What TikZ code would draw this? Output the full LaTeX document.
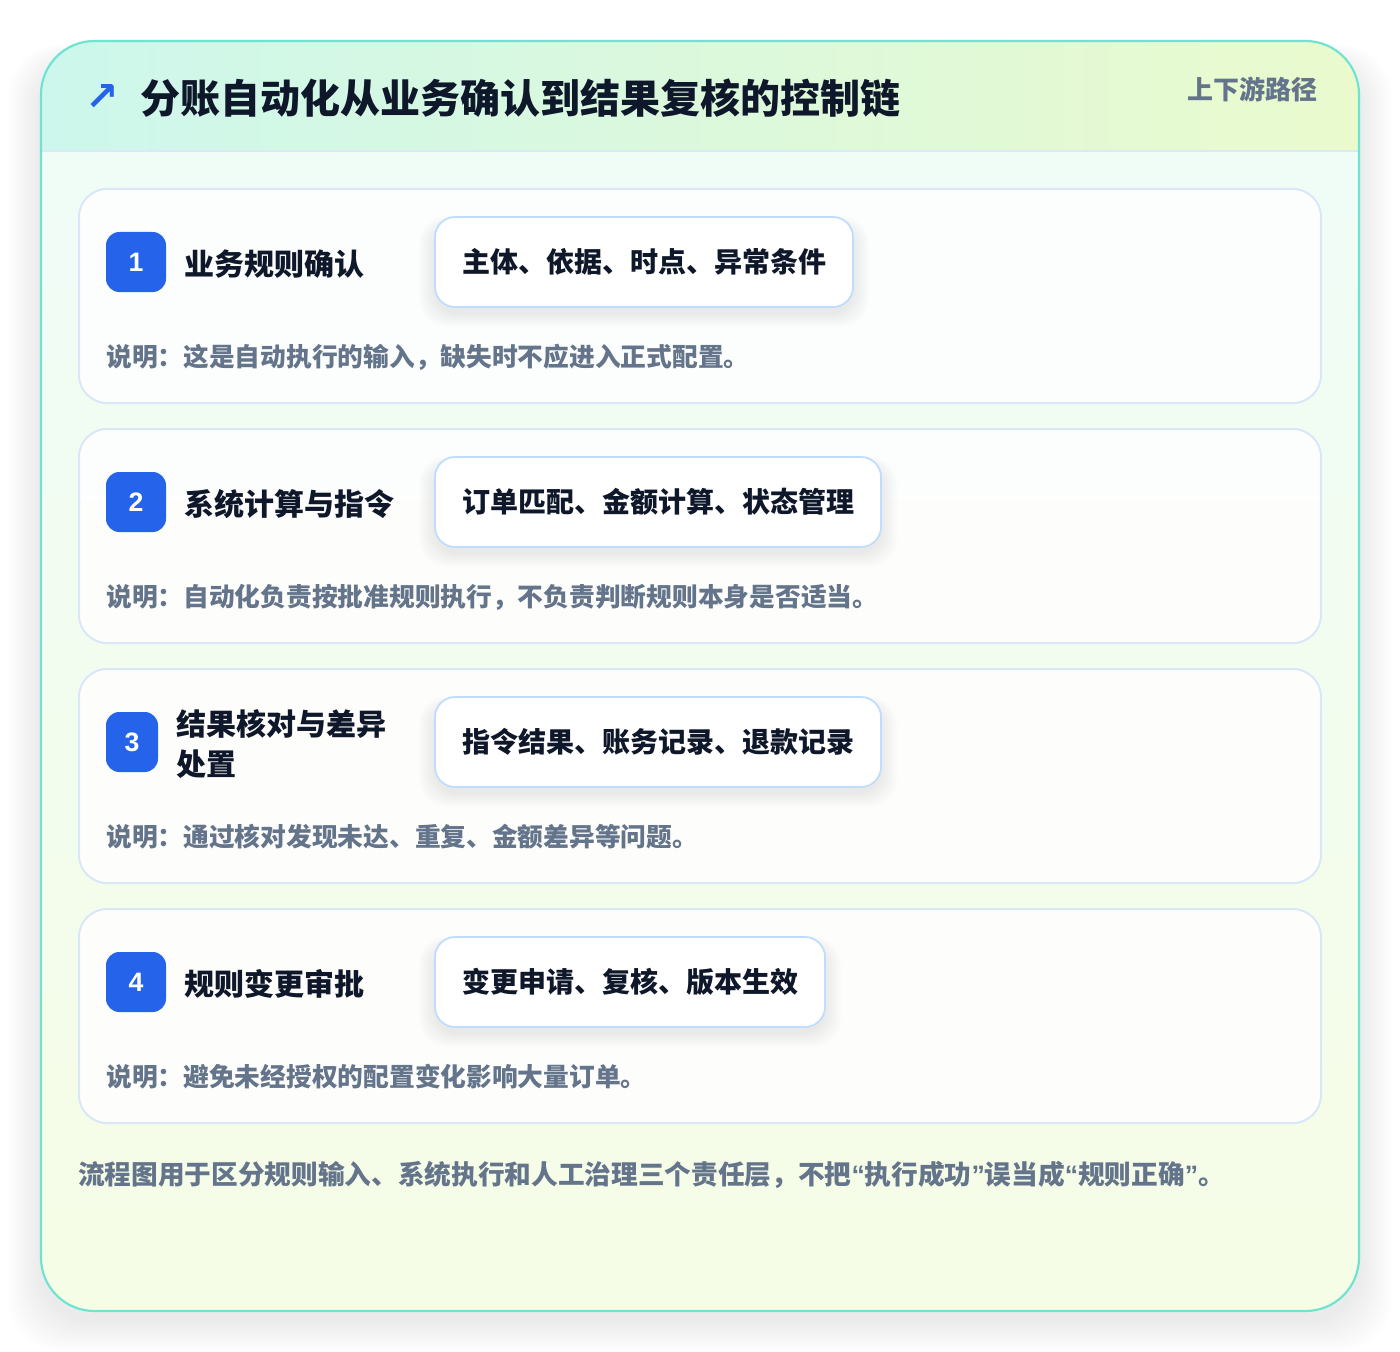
\documentclass[tikz,border=0pt]{standalone}
\usepackage{fontspec}
\setmainfont{Noto Sans CJK SC}[BoldFont={* Bold}]
\newfontfamily\heavyfont{Noto Sans CJK SC Black}
\newfontfamily\symfont{DejaVu Sans}
\newfontfamily\latinfont{Liberation Sans}
\usetikzlibrary{positioning}
\definecolor{badgeblue}{HTML}{2563EB}
\definecolor{ink}{HTML}{0F172A}
\definecolor{muted}{HTML}{64748B}
\definecolor{cardline}{HTML}{D9E7F8}
\definecolor{tagline}{HTML}{BFDBFE}
\definecolor{frame}{HTML}{6EE3CF}
\definecolor{headL}{HTML}{CDF7EC}
\definecolor{headR}{HTML}{EAFACD}
\definecolor{bodyT}{HTML}{EFFCF8}
\definecolor{bodyB}{HTML}{F6FDE6}
\definecolor{headrule}{HTML}{DCE7F7}
\newcommand{\lquo}{{\latinfont\bfseries “}}
\newcommand{\rquo}{{\latinfont\bfseries ”}}
\tikzset{
  cardbox/.style={draw=cardline, line width=1.5pt, fill=white, fill opacity=0.85, rounded corners=21pt},
  badge/.style={fill=badgeblue, rounded corners=10pt, text=white, font=\latinfont\bfseries\fontsize{20pt}{22pt}\selectfont, inner sep=0pt, minimum height=45pt},
  steplabel/.style={anchor=west, text=ink, font=\heavyfont\fontsize{22.5pt}{30pt}\selectfont, inner sep=0pt, align=left},
  tagbox/.style={draw=tagline, line width=1.3pt, fill=white, rounded corners=15pt, text=ink, font=\heavyfont\fontsize{21pt}{24pt}\selectfont, minimum height=67.5pt, inner sep=0pt},
  notetext/.style={anchor=west, text=muted, font=\heavyfont\fontsize{19.3pt}{22pt}\selectfont, inner sep=0pt},
}
\newcommand{\tagshadow}[4]{% x1 y1 x2 y2
  \foreach \k in {1,...,10}{
    \fill[black, opacity=0.006, rounded corners=20] (#1-\k*1.6, #2+6-\k*0.6) rectangle (#3+\k*1.6, #4+6+\k*1.4);
  }}
\begin{document}
\begin{tikzpicture}[x=0.75pt,y=-0.75pt]
\useasboundingbox (0,0) rectangle (1400,1352);
\fill[white] (0,0) rectangle (1400,1352);
% outer shadow
\foreach \k in {1,...,20}{
  \fill[black, opacity=0.005, rounded corners=40] (41-\k*1.7, 60-\k*0.8) rectangle (1359+\k*1.7, 1320+\k*1.6);
}
% outer frame
\begin{scope}
  \clip[rounded corners=40] (41,41) rectangle (1359,1311);
  \shade[top color=bodyT, bottom color=bodyB] (41,41) rectangle (1359,1311);
  \shade[left color=headL, right color=headR] (41,41) rectangle (1359,151);
  \draw[headrule, line width=1.2pt] (41,151) -- (1359,151);
\end{scope}
\draw[frame, line width=1.6pt, rounded corners=40] (41,41) rectangle (1359,1311);

% header
\node[text=badgeblue, font=\symfont\bfseries\fontsize{30pt}{32pt}\selectfont, inner sep=0pt] (arrow) at (102,98) {↗};
\node[anchor=west, text=ink, font=\heavyfont\fontsize{30pt}{32pt}\selectfont, inner sep=0pt] (title) at (140,98) {分账自动化从业务确认到结果复核的控制链};
\node[anchor=east, text=muted, font=\heavyfont\fontsize{19.5pt}{22pt}\selectfont, inner sep=0pt] (path) at (1318,89) {上下游路径};

% card 1
\draw[cardbox] (79,189) rectangle (1321,403);
\node[badge, minimum width=45pt] (b1) at (136,262) {1};
\node[steplabel] (l1) at (184,264) {业务规则确认};
\tagshadow{435}{217}{853}{307}
\node[tagbox, minimum width=418*0.75pt] (t1) at (644,262) {主体、依据、时点、异常条件};
\node[notetext] (n1) at (106,357) {说明：这是自动执行的输入，缺失时不应进入正式配置。};

% card 2
\draw[cardbox] (79,429) rectangle (1321,643);
\node[badge, minimum width=45pt] (b2) at (136,502) {2};
\node[steplabel] (l2) at (184,504) {系统计算与指令};
\tagshadow{435}{457}{881}{547}
\node[tagbox, minimum width=446*0.75pt] (t2) at (658,502) {订单匹配、金额计算、状态管理};
\node[notetext] (n2) at (106,597) {说明：自动化负责按批准规则执行，不负责判断规则本身是否适当。};

% card 3
\draw[cardbox] (79,669) rectangle (1321,883);
\node[badge, minimum width=39pt] (b3) at (132,742) {3};
\node[steplabel] (l3) at (176,744) {结果核对与差异\\处置};
\tagshadow{435}{697}{881}{787}
\node[tagbox, minimum width=446*0.75pt] (t3) at (658,742) {指令结果、账务记录、退款记录};
\node[notetext] (n3) at (106,837) {说明：通过核对发现未达、重复、金额差异等问题。};

% card 4
\draw[cardbox] (79,909) rectangle (1321,1123);
\node[badge, minimum width=45pt] (b4) at (136,982) {4};
\node[steplabel] (l4) at (184,984) {规则变更审批};
\tagshadow{435}{937}{825}{1027}
\node[tagbox, minimum width=390*0.75pt] (t4) at (630,982) {变更申请、复核、版本生效};
\node[notetext] (n4) at (106,1077) {说明：避免未经授权的配置变化影响大量订单。};

% footer
\node[anchor=west, text=muted, font=\heavyfont\fontsize{20pt}{24pt}\selectfont, inner sep=0pt] (foot) at (78,1175) {流程图用于区分规则输入、系统执行和人工治理三个责任层，不把\lquo 执行成功\rquo 误当成\lquo 规则正确\rquo 。};
\end{tikzpicture}
\end{document}
